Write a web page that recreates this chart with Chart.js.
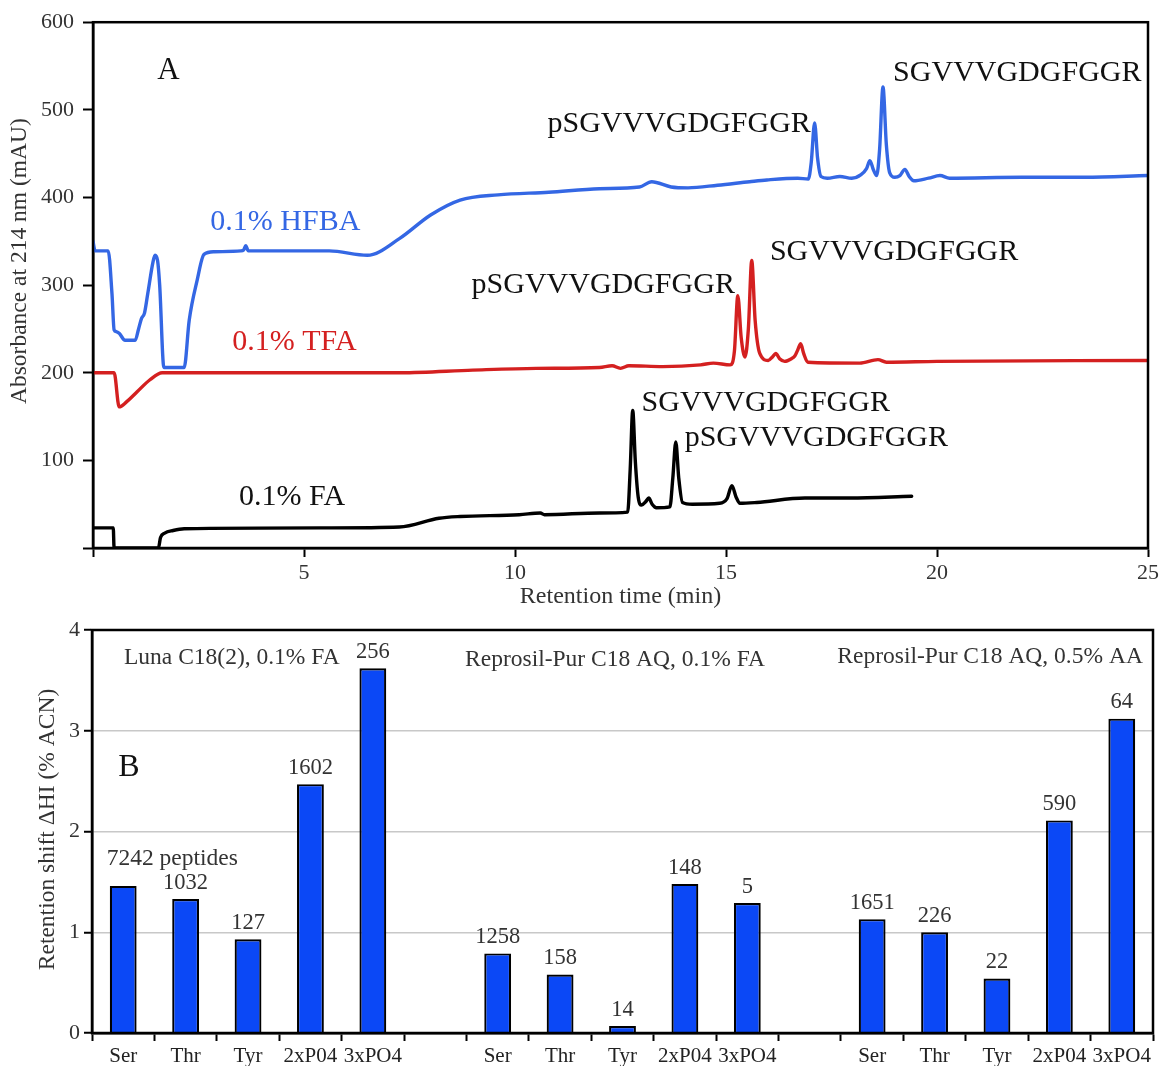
<!DOCTYPE html>
<html>
<head>
<meta charset="utf-8">
<title>Chromatogramas y desplazamiento de retención</title>
<script src="https://cdn.jsdelivr.net/npm/chart.js@4.4.1/dist/chart.umd.min.js"></script>
<style>
  html, body { margin: 0; padding: 0; background: #fff; }
  #wrap { position: relative; width: 1163px; height: 1066px; }
  #chromA { position: absolute; left: 0; top: 0; width: 1163px; height: 612px; }
  #shiftB { position: absolute; left: 0; top: 612px; width: 1163px; height: 454px; }
</style>
</head>
<body>
<div id="wrap">
  <canvas id="chromA" width="1163" height="612"></canvas>
  <canvas id="shiftB" width="1163" height="454"></canvas>
</div>
<script>
// ====== Datos: cromatogramas (min, mAU) ======
const hfbaTime = [0, 0.05, 0.36, 0.45, 0.5, 0.55, 0.62, 0.76, 1.0, 1.08, 1.15, 1.22, 1.3, 1.42, 1.47, 1.53, 1.58, 1.68, 2.16, 2.28, 2.47, 2.63, 2.87, 3.5, 3.57, 3.62, 3.68, 4.5, 5.6, 6.5, 7.26, 8.0, 8.7, 9.6, 10.8, 12.0, 12.95, 13.24, 13.7, 14.1, 14.8, 15.56, 15.97, 16.7, 16.95, 17.02, 17.1, 17.17, 17.25, 17.4, 17.7, 17.98, 18.2, 18.33, 18.41, 18.49, 18.57, 18.64, 18.72, 18.8, 18.88, 19.0, 19.12, 19.24, 19.34, 19.45, 19.8, 20.07, 20.3, 22, 23.5, 25];
const hfbaAbs  = [350, 339, 339, 290, 249, 247, 245, 237, 237, 250, 262, 268, 291, 326, 334, 328, 300, 206, 206, 260, 306, 335, 338, 339, 340, 345, 339, 339, 339, 334, 353, 380, 397, 403, 406, 410, 412, 418, 412, 411, 414, 418, 420, 422, 421, 440, 485, 445, 424, 422, 424, 422, 426, 433, 442, 432, 425, 455, 526, 460, 428, 423, 425, 432, 424, 419, 422, 425, 422, 423, 423, 425];

const tfaTime = [0, 0.5, 0.62, 0.8, 1.04, 1.35, 1.64, 2.0, 7.3, 9.0, 10.5, 12.0, 12.3, 12.5, 12.7, 13.5, 14.4, 14.7, 15.1, 15.2, 15.28, 15.36, 15.45, 15.53, 15.61, 15.69, 15.8, 16.0, 16.1, 16.18, 16.27, 16.39, 16.55, 16.63, 16.7, 16.77, 16.84, 16.94, 18.17, 18.6, 18.8, 20.0, 25];
const tfaAbs  = [200, 200, 161, 167, 178, 192, 200, 200, 200, 203, 205, 206, 208, 205, 208, 207, 209, 211, 209, 225, 288, 240, 218, 250, 328, 260, 222, 214, 218, 222, 216, 213, 216, 219, 226, 233, 222, 212, 211, 215, 212, 213, 214];

const faTime = [0, 0.48, 0.5, 1.55, 1.6, 1.7, 1.9, 2.16, 5.6, 7.26, 8.2, 8.7, 10.1, 10.6, 10.7, 12.0, 12.67, 12.73, 12.79, 12.85, 12.92, 13.0, 13.1, 13.17, 13.25, 13.35, 13.67, 13.74, 13.81, 13.88, 13.97, 14.2, 14.85, 15.02, 15.14, 15.24, 15.33, 15.73, 16.87, 17.94, 19.4];
const faAbs  = [23, 23, 0, 0, 12, 17, 20, 22, 23, 24, 34, 36, 38, 40, 38, 40, 41, 90, 157, 100, 58, 49, 53, 57, 50, 46, 47, 80, 121, 80, 52, 50, 51, 56, 71, 58, 51, 52, 57, 57, 59];

// ====== Datos: desplazamiento de retención (% ACN) ======
const residuos = ['Ser', 'Thr', 'Tyr', '2xP04', '3xPO4'];
const lunaFA = [1.46, 1.33, 0.93, 2.47, 3.62];
const reprosilFA = [0.79, 0.58, 0.07, 1.48, 1.29];
const reprosilAA = [1.13, 1.00, 0.54, 2.11, 3.12];
const lunaN = [7242, 1032, 127, 1602, 256];
const reprosilFAN = [1258, 158, 14, 148, 5];
const reprosilAAN = [1651, 226, 22, 590, 64];

const serif = '"Liberation Serif", "Times New Roman", serif';
Chart.defaults.font.family = serif;

const azul = '#3467e4';
const rojo = '#d42020';

// ====== Plugin: marco completo ======
const marco = {
  id: 'marco',
  afterDraw(chart) {
    const {ctx, chartArea: a} = chart;
    ctx.save();
    ctx.strokeStyle = '#000';
    ctx.lineWidth = 2.5;
    ctx.strokeRect(a.left, a.top, a.right - a.left, a.bottom - a.top);
    ctx.restore();
  }
};

// Textos sueltos colocados en unidades de los ejes
const notas = {
  id: 'notas',
  afterDraw(chart, args, opts) {
    const {ctx, scales} = chart;
    ctx.save();
    ctx.textBaseline = 'middle';
    (opts.items || []).forEach(n => {
      ctx.font = (n.size || 22) + 'px ' + serif;
      ctx.fillStyle = n.color || '#111';
      ctx.textAlign = n.align || 'left';
      ctx.fillText(n.text, scales.x.getPixelForValue(n.x), scales.y.getPixelForValue(n.y));
    });
    ctx.restore();
  }
};

// Título vertical del eje Y, algo desplazado hacia arriba
const tituloY = {
  id: 'tituloY',
  afterDraw(chart, args, opts) {
    if (!opts.text) return;
    const {ctx, chartArea: a} = chart;
    ctx.save();
    ctx.translate(opts.x, (a.top + a.bottom) / 2 + (opts.shift || 0));
    ctx.rotate(-Math.PI / 2);
    ctx.font = opts.size + 'px ' + serif;
    ctx.fillStyle = '#333';
    ctx.textAlign = 'center';
    ctx.textBaseline = 'middle';
    ctx.fillText(opts.text, 0, 0);
    ctx.restore();
  }
};

// Número de péptidos sobre cada barra
const conteos = {
  id: 'conteos',
  afterDatasetsDraw(chart, args, opts) {
    const {ctx} = chart;
    const meta = chart.getDatasetMeta(0);
    ctx.save();
    ctx.font = '22.5px ' + serif;
    ctx.fillStyle = '#333';
    ctx.textBaseline = 'bottom';
    meta.data.forEach((bar, i) => {
      const n = opts.valores[i];
      if (n === null || n === undefined) return;
      if (i === 0) {
        ctx.font = '23.5px ' + serif;
        ctx.textAlign = 'left';
        const w = ctx.measureText(String(n)).width;
        ctx.fillText(n + ' peptides', bar.x - w / 2 + 7, bar.y - 15);
        ctx.font = '22.5px ' + serif;
      } else {
        ctx.textAlign = 'center';
        ctx.fillText(String(n), bar.x, bar.y - 5);
      }
    });
    ctx.restore();
  }
};

const serie = (ts, ys) => ts.map((t, i) => ({x: t, y: ys[i]}));

// ====== Panel A: cromatogramas ======
new Chart(document.getElementById('chromA'), {
  type: 'scatter',
  data: {
    datasets: [
      {label: '0.1% HFBA', data: serie(hfbaTime, hfbaAbs), borderColor: azul},
      {label: '0.1% TFA', data: serie(tfaTime, tfaAbs), borderColor: rojo},
      {label: '0.1% FA', data: serie(faTime, faAbs), borderColor: '#000'}
    ].map(d => Object.assign(d, {
      showLine: true, pointRadius: 0, borderWidth: 3.4, tension: 0.2,
      cubicInterpolationMode: 'monotone', borderJoinStyle: 'round', borderCapStyle: 'round'
    }))
  },
  options: {
    responsive: false,
    animation: false,
    layout: {padding: {top: 22, right: 15, left: 0, bottom: 0}},
    plugins: {
      legend: {display: false},
      tooltip: {enabled: false},
      tituloY: {text: 'Absorbance at 214 nm (mAU)', x: 20, shift: -24, size: 23.5},
      notas: {items: [
        {text: 'A', x: 1.52, y: 545, size: 31},
        {text: '0.1% HFBA', x: 2.78, y: 372, size: 30, color: azul},
        {text: '0.1% TFA', x: 3.30, y: 235, size: 30, color: rojo},
        {text: '0.1% FA', x: 3.46, y: 58, size: 30, color: '#111'},
        {text: 'SGVVVGDGFGGR', x: 18.96, y: 542, size: 30},
        {text: 'pSGVVVGDGFGGR', x: 10.77, y: 484, size: 30},
        {text: 'SGVVVGDGFGGR', x: 16.04, y: 338, size: 30},
        {text: 'pSGVVVGDGFGGR', x: 8.97, y: 300, size: 30},
        {text: 'SGVVVGDGFGGR', x: 13.0, y: 165, size: 30},
        {text: 'pSGVVVGDGFGGR', x: 14.02, y: 125, size: 30}
      ]}
    },
    scales: {
      x: {
        type: 'linear', min: 0, max: 25,
        afterFit: s => { s.height = 64; },
        border: {color: '#000', width: 2.5},
        grid: {drawOnChartArea: false, tickLength: 9, tickColor: '#000', tickWidth: 2},
        ticks: {stepSize: 5, color: '#333', font: {size: 22}, padding: 3, maxRotation: 0,
          callback: v => v === 0 ? '' : v},
        title: {display: true, text: 'Retention time (min)', color: '#333', font: {size: 24}, padding: {bottom: 1}}
      },
      y: {
        min: 0, max: 600,
        afterFit: s => { s.width = 93; },
        border: {color: '#000', width: 2.5},
        grid: {drawOnChartArea: false, tickLength: 10, tickColor: '#000', tickWidth: 2},
        ticks: {stepSize: 100, color: '#333', font: {size: 22}, padding: 9,
          callback: v => v === 0 ? '' : v}
      }
    }
  },
  plugins: [marco, notas, tituloY]
});

// ====== Panel B: barras agrupadas por columna / modificador ======
const categorias = [...residuos, '', ...residuos, '', ...residuos];
const desplazamiento = [...lunaFA, null, ...reprosilFA, null, ...reprosilAA];
const peptidos = [...lunaN, null, ...reprosilFAN, null, ...reprosilAAN];

new Chart(document.getElementById('shiftB'), {
  type: 'bar',
  data: {
    labels: categorias,
    datasets: [{
      data: desplazamiento,
      backgroundColor: '#0b48f6',
      borderColor: '#000',
      borderWidth: 2.2,
      borderSkipped: 'bottom',
      barPercentage: 0.43,
      categoryPercentage: 1
    }]
  },
  options: {
    responsive: false,
    animation: false,
    layout: {padding: {top: 18, right: 10, left: 0, bottom: 0}},
    plugins: {
      legend: {display: false},
      tooltip: {enabled: false},
      conteos: {valores: peptidos},
      tituloY: {text: 'Retention shift ΔHI (% ACN)', x: 48, shift: -2, size: 23.5},
      notas: {items: [
        {text: 'Luna C18(2), 0.1% FA', x: 1.74, y: 3.72, size: 23.5, color: '#333', align: 'center'},
        {text: 'Reprosil-Pur C18 AQ, 0.1% FA', x: 7.88, y: 3.70, size: 23.5, color: '#333', align: 'center'},
        {text: 'Reprosil-Pur C18 AQ, 0.5% AA', x: 13.89, y: 3.73, size: 23.5, color: '#333', align: 'center'},
        {text: 'B', x: -0.08, y: 2.63, size: 32}
      ]}
    },
    scales: {
      x: {
        afterFit: s => { s.height = 33; },
        border: {color: '#000', width: 2.5},
        grid: {offset: true, drawOnChartArea: false, tickLength: 8, tickColor: '#000', tickWidth: 2},
        ticks: {color: '#222', font: {size: 21}, padding: 3, maxRotation: 0, autoSkip: false}
      },
      y: {
        min: 0, max: 4,
        afterFit: s => { s.width = 92; },
        border: {color: '#000', width: 2.5},
        grid: {color: '#c8c8c8', lineWidth: 1.5, tickLength: 8, tickColor: '#000', tickWidth: 2},
        ticks: {stepSize: 1, color: '#333', font: {size: 22}, padding: 4}
      }
    }
  },
  plugins: [marco, notas, tituloY, conteos]
});
</script>
</body>
</html>
